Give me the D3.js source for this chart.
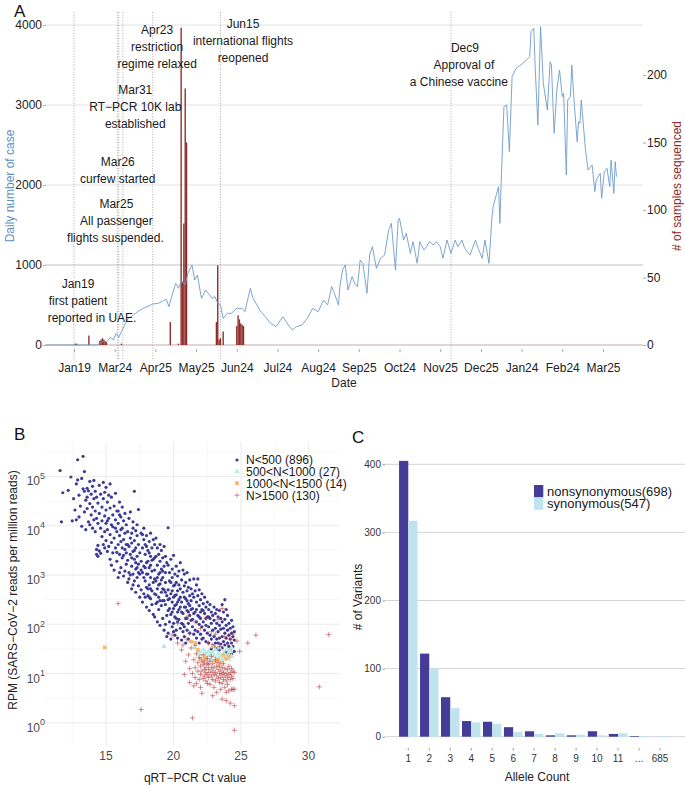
<!DOCTYPE html>
<html>
<head>
<meta charset="utf-8">
<script src="https://cdn.jsdelivr.net/npm/d3@7"></script>
<style>
  body { margin: 0; background: #fff; }
  svg { font-family: "Liberation Sans", Arial, Helvetica, sans-serif; }
</style>
</head>
<body>
<div id="fig"></div>
<script>
// ---------- panel A data ----------
// day index (0 = first day on the axis) and daily new cases
var dailyCases = [[0,0],[38,0],[40,20],[43,54],[45,40],[48,96],[50,62],[52,146],[54,96],[56,167],[59,271],[61,333],
  [65,375],[68,417],[72,458],[76,487],[79,512],[83,521],[87,554],[89,571],[91,479],[93,604],[96,771],[98,708],
  [100,792],[103,760],[105,896],[108,1000],[110,812],[112,875],[115,583],[118,688],[120,646],[123,583],[125,604],
  [127,521],[129,500],[131,333],[134,396],[137,396],[141,458],[145,458],[147,417],[151,708],[153,583],[156,500],
  [158,437],[162,354],[166,271],[170,229],[175,354],[179,250],[182,188],[185,229],[189,250],[193,333],[197,458],
  [201,417],[205,562],[208,500],[211,729],[213,646],[216,500],[217,729],[219,937],[221,1000],[223,687],[226,854],
  [228,771],[230,729],[232,1062],[234,1021],[237,646],[239,1125],[241,1229],[244,958],[247,1083],[250,1125],
  [253,1437],[255,1521],[258,937],[260,1562],[261,1583],[264,1312],[266,1396],[269,1146],[271,1292],[274,1021],
  [276,1292],[279,1187],[281,1229],[283,1292],[286,1250],[288,1292],[291,1229],[293,1083],[296,1312],[299,1146],
  [302,1312],[304,1229],[307,1312],[309,1208],[313,1125],[317,1312],[319,1208],[322,1083],[324,1312],[327,1021],
  [329,1562],[330,1729],[333,1917],[334,1979],[335,1521],[336,2062],[338,2979],[340,3000],[342,2417],[344,3354],
  [347,3458],[352,3521],[357,3604],[358,3917],[360,3958],[361,3479],[363,2750],[365,3979],[367,3271],[370,2937],
  [372,3541],[373,3500],[375,2646],[377,3187],[379,3437],[381,3104],[382,3146],[384,2125],[385,3062],[387,3104],
  [388,3500],[390,2979],[392,2541],[393,2791],[394,2770],[395,3062],[398,2458],[400,2187],[403,2250],[405,1917],
  [406,2062],[409,2146],[410,1833],[412,2167],[414,2208],[416,1979],[417,2312],[419,1896],[420,2292],[421,2104]];

// day index and number of samples sequenced
var samplesSequenced = [[22,1],[23,1],[32,7],[40,3],[41,4],[42,5],[43,4],[44,3],[45,2],[56,1],[92,17],[98,1],
  [100,235],[101,47],[102,90],[103,190],[104,150],[126,17],[127,59],[128,4],[129,5],[131,10],
  [141,14],[142,22],[143,19],[144,16],[145,15],[146,14]];

var dateTickDays = [21, 51, 81, 111, 141, 171, 201, 231, 261, 291, 321, 351, 381, 411];
var dateTickLabels = ["Jan19","Mar24","Apr25","May25","Jun24","Jul24","Aug24","Sep25","Oct24","Nov25","Dec25","Jan24","Feb24","Mar25"];
var caseTicks = [0, 1000, 2000, 3000, 4000];
var sampleTicks = [0, 50, 100, 150, 200];

var eventDays = [21, 53, 54, 57, 79, 129, 299];
var eventText = [
  ["Jan19", "first patient", "reported in UAE."],
  ["Mar25", "All passenger", "flights suspended."],
  ["Mar26", "curfew started"],
  ["Mar31", "RT\u2212PCR 10K lab", "established"],
  ["Apr23", "restriction", "regime relaxed"],
  ["Jun15", "international flights", "reopened"],
  ["Dec9", "Approval of", "a Chinese vaccine"]
];

// ---------- panel B data: [Ct value, log10 RPM] ----------
var groupN500 = [
  [11.6,5.12],[11.7,4.08],[11.8,4.67],[12.2,4.72],[12.4,4.99],[12.5,4.10],
  [12.6,4.55],[12.7,4.32],[12.8,4.85],[12.9,5.34],[12.9,4.93],[13.0,4.62],[13.0,4.18],[13.1,4.40],[13.2,4.96],[13.2,3.99],
  [13.3,5.41],[13.3,4.75],[13.4,5.10],[13.4,4.28],[13.4,4.70],[13.5,4.52],[13.5,3.92],[12.8,4.12],
  [13.6,4.76],[13.6,4.35],[13.7,4.71],[13.7,4.08],[13.8,4.45],[13.8,4.90],[13.9,4.22],[13.9,4.64],[14.0,4.38],[14.0,3.95],
  [14.0,4.80],[14.1,4.55],[14.1,4.12],[14.2,4.70],[14.2,3.88],[14.2,4.30],[14.3,4.58],[14.3,3.52],[14.3,3.42],[14.4,4.05],
  [14.4,4.46],[14.4,3.38],[14.5,3.49],[14.5,4.25],[14.5,4.82],[13.8,4.02],[14.1,4.92],[13.6,4.58],[14.3,4.15],[14.4,3.60],
  [14.6,4.64],[14.6,3.95],[14.6,3.44],[14.7,4.38],[14.7,4.10],[14.7,3.78],[14.8,4.55],[14.8,3.62],[14.8,4.88],[14.9,4.20],
  [14.9,3.88],[14.9,4.68],[15.0,4.32],[15.0,3.70],[15.0,4.05],[15.0,4.78],[15.1,3.48],[15.1,4.48],[15.1,3.92],[15.2,4.15],
  [15.2,3.58],[15.2,4.62],[15.3,3.82],[15.3,4.36],[15.3,3.32],[15.4,4.02],[15.4,4.58],[15.4,3.66],[15.5,4.22],[15.5,3.45],
  [15.5,3.98],[15.1,4.10],[14.9,3.55],[15.3,4.85],[15.4,3.20],
  [15.6,4.40],[15.6,3.75],[15.6,3.10],[15.7,4.12],[15.7,3.55],[15.7,4.66],[15.8,3.88],[15.8,3.28],[15.8,4.30],[15.9,3.62],
  [15.9,4.05],[15.9,2.95],[16.0,4.48],[16.0,3.42],[16.0,3.80],[16.1,4.18],[16.1,3.15],[16.1,3.68],[16.2,3.95],[16.2,4.38],
  [16.2,3.35],[16.3,3.72],[16.3,4.10],[16.3,2.98],[16.4,3.52],[16.4,4.25],[16.4,3.85],[16.5,3.22],[16.5,3.62],[16.5,4.02],
  [15.9,4.30],[16.0,3.05],[16.2,3.55],[15.7,3.95],[16.4,3.08],[16.1,3.92],[15.8,3.46],[16.3,3.40],[16.0,4.22],[16.5,3.45],
  [16.6,3.88],[16.6,3.30],[16.6,2.85],[16.7,4.15],[16.7,3.58],[16.7,3.05],[16.8,3.75],[16.8,3.42],[16.8,4.28],[16.9,3.18],
  [16.9,3.65],[16.9,2.72],[17.0,3.95],[17.0,3.48],[17.0,3.02],[17.0,4.08],[17.1,3.32],[17.1,2.88],[17.1,4.70],[17.1,3.70],
  [17.2,3.55],[17.2,3.12],[17.2,2.65],[17.2,3.90],[17.3,3.38],[17.3,2.95],[17.3,3.80],[17.3,4.02],[17.4,3.22],[17.4,2.78],
  [17.4,3.62],[17.4,4.33],[17.5,3.45],[17.5,3.02],[17.5,2.55],[16.7,2.92],[16.9,3.85],[17.2,3.25],[16.6,3.62],[17.0,2.80],
  [17.3,3.15],[16.8,3.00],[17.1,3.50],[17.4,3.05],[16.9,3.35],
  [17.6,3.85],[17.6,3.28],[17.6,2.70],[17.7,3.55],[17.7,3.05],[17.7,2.45],[17.8,3.72],[17.8,3.18],[17.8,2.62],[17.8,3.95],
  [17.9,3.42],[17.9,2.88],[17.9,3.62],[18.0,3.25],[18.0,2.75],[18.0,3.80],[18.0,2.35],[18.1,3.50],[18.1,3.02],[18.1,2.58],
  [18.2,3.68],[18.2,3.15],[18.2,2.80],[18.2,2.28],[18.3,3.38],[18.3,2.95],[18.3,3.85],[18.3,2.52],[18.4,3.55],[18.4,3.08],
  [18.4,2.68],[18.5,3.32],[18.5,2.85],[18.5,2.20],[18.5,3.72],[17.6,3.10],[17.7,3.82],[17.9,3.15],[18.0,3.58],[18.1,3.28],
  [18.2,2.55],[18.3,3.20],[18.4,2.40],[17.8,2.95],[18.1,2.72],[18.4,3.30],[17.9,2.55],[18.2,3.45],[18.0,3.02],[18.3,2.72],
  [18.6,3.62],[18.6,3.10],[18.6,2.62],[18.6,2.15],[18.7,3.38],[18.7,2.88],[18.7,3.75],[18.7,2.42],[18.8,3.20],[18.8,2.72],
  [18.8,3.55],[18.8,2.05],[18.9,3.02],[18.9,2.55],[18.9,3.42],[18.9,2.30],[19.0,3.28],[19.0,2.82],[19.0,3.62],[19.0,1.98],
  [19.1,3.12],[19.1,2.65],[19.1,2.38],[19.1,3.50],[19.2,2.95],[19.2,2.48],[19.2,3.35],[19.2,2.12],[19.3,3.18],[19.3,2.70],
  [19.3,1.88],[19.3,3.58],[19.4,2.85],[19.4,2.40],[19.4,3.05],[19.4,2.00],[19.5,3.25],[19.5,2.58],[19.5,2.18],[19.5,1.75],
  [19.6,3.96],[18.6,2.92],[18.7,2.60],[18.8,2.95],[18.9,2.80],[19.0,2.48],[19.1,2.90],[19.2,2.72],[19.3,2.48],[19.4,2.65],
  [19.0,3.05],[18.8,2.45],[19.2,3.08],[18.6,3.35],[19.4,3.38],
  [19.6,3.20],[19.6,2.70],[19.6,2.28],[19.6,1.82],[19.7,3.05],[19.7,2.52],[19.7,2.88],[19.7,2.05],[19.8,3.32],[19.8,2.62],
  [19.8,2.20],[19.8,1.70],[19.9,2.95],[19.9,2.45],[19.9,3.12],[19.9,1.95],[20.0,2.78],[20.0,2.32],[20.0,3.40],[20.0,2.02],
  [20.1,2.58],[20.1,3.02],[20.1,2.15],[20.1,1.78],[20.2,2.85],[20.2,2.40],[20.2,3.18],[20.2,1.88],[20.3,2.68],[20.3,2.25],
  [20.3,2.98],[20.3,1.72],[20.4,2.50],[20.4,2.10],[20.4,3.08],[20.4,2.80],[20.5,2.35],[20.5,1.92],[20.5,2.72],[20.5,3.25],
  [19.7,2.32],[19.8,2.85],[19.9,2.25],[20.0,2.55],[20.1,2.38],[20.2,2.60],[20.3,2.45],[20.4,2.30],[20.0,1.85],[19.6,2.50],
  [20.2,2.12],[19.9,2.68],[20.1,2.80],[20.3,2.05],[20.5,2.55],
  [20.6,2.90],[20.6,2.45],[20.6,2.02],[20.6,1.68],[20.7,2.65],[20.7,2.22],[20.7,3.10],[20.7,1.85],[20.8,2.78],[20.8,2.35],
  [20.8,1.95],[20.8,3.02],[20.9,2.52],[20.9,2.12],[20.9,2.85],[20.9,1.62],[21.0,2.68],[21.0,2.28],[21.0,1.88],[21.0,3.05],
  [21.1,2.42],[21.1,2.02],[21.1,2.75],[21.1,1.70],[21.2,2.58],[21.2,2.18],[21.2,2.90],[21.2,1.82],[21.3,2.48],[21.3,2.08],
  [21.3,2.72],[21.3,1.65],[21.4,2.32],[21.4,1.95],[21.4,2.62],[21.5,2.22],[21.5,1.80],[21.5,2.55],[21.5,2.92],[20.6,2.25],
  [20.8,2.55],[21.0,2.48],[21.2,2.38],[21.4,2.10],[20.7,2.00],[20.9,2.35],[21.1,2.25],[21.3,2.30],[20.8,1.75],[21.0,2.12],
  [21.6,2.68],[21.6,2.25],[21.6,1.88],[21.6,1.58],[21.7,2.45],[21.7,2.05],[21.7,2.80],[21.7,1.72],[21.8,2.58],[21.8,2.18],
  [21.8,1.85],[21.9,2.38],[21.9,2.00],[21.9,2.70],[21.9,1.62],[22.0,2.50],[22.0,2.12],[22.0,1.80],[22.1,2.30],[22.1,1.95],
  [22.1,2.62],[22.2,2.42],[22.2,2.05],[22.2,1.72],[22.3,2.22],[22.3,1.88],[22.3,2.55],[22.4,2.35],[22.4,1.98],[22.4,1.65],
  [22.5,2.15],[22.5,1.82],[22.5,2.45],[21.8,2.92],[22.0,2.25],[22.2,2.28],[21.7,2.30],[22.4,2.12],[21.9,2.15],[22.1,1.70],
  [22.6,2.30],[22.6,1.95],[22.6,1.62],[22.7,2.12],[22.7,1.78],[22.7,2.40],[22.8,2.02],[22.8,1.70],[22.8,2.25],[22.9,1.88],
  [22.9,2.18],[22.9,1.58],[23.0,2.08],[23.0,1.75],[23.0,2.35],[23.1,1.92],[23.1,1.62],[23.1,2.22],[23.2,2.02],[23.2,1.70],
  [23.2,1.50],[23.3,1.85],[23.3,2.15],[23.3,1.62],[23.4,1.98],[23.4,1.72],[23.4,2.28],[23.5,1.90],[23.5,1.60],[23.5,2.12],
  [22.8,1.50],[23.0,1.55],[23.2,2.30],[22.6,2.15],[23.4,1.48],
  [23.6,2.05],[23.6,1.75],[23.6,1.52],[23.6,2.40],[23.7,1.92],[23.7,1.65],[23.7,2.25],[23.8,1.82],[23.8,1.58],[23.8,2.50],
  [23.8,2.10],[23.9,1.72],[23.9,1.98],[23.9,1.45],[24.0,1.88],[24.0,1.62],[24.0,2.18],[24.1,1.78],[24.1,1.55],[24.1,2.02],
  [24.2,1.70],[24.2,1.92],[24.2,1.48],[24.3,1.82],[24.3,1.62],[24.3,2.08],[24.4,1.75],[24.4,1.55],[24.4,1.95],[24.5,1.68],
  [24.5,1.85],[24.5,1.45],[24.3,1.40],[24.0,1.40],[23.9,2.30]
];
var group500to1000 = [[19.3,1.55],[21.6,1.52],[21.9,1.45],[22.0,1.38],[22.2,1.48],[22.3,1.32],[22.4,1.42],[22.5,1.30],
  [22.6,1.45],[22.7,1.38],[22.8,1.28],[22.9,1.42],[23.0,1.35],[23.1,1.48],[23.2,1.30],[23.3,1.40],[23.4,1.52],[23.5,1.35],
  [23.6,1.28],[23.7,1.42],[23.8,1.32],[23.9,1.48],[24.0,1.38],[24.1,1.30],[24.2,1.45],[24.3,1.35],[24.3,1.52]];
var group1000to1500 = [[14.9,1.53],[21.3,1.65],[21.6,1.62],[21.8,1.48],[22.0,1.30],[22.3,1.28],[22.4,1.33],[22.9,1.55],
  [23.1,1.25],[23.3,1.28],[23.5,1.22],[23.7,1.38],[23.9,1.30],[24.1,1.35]];
var groupOver1500 = [[15.9,2.42],[17.6,0.27],[21.4,0.10],[24.5,-0.15],[26.1,1.78],[31.5,1.79],[30.8,0.73],[25.5,1.62],
  [24.9,1.45],[24.7,1.66],[19.9,1.78],
  [20.3,1.62],[20.6,1.48],[20.7,1.58],[20.8,0.98],[20.9,1.25],[21.0,1.70],[21.1,1.38],[21.2,0.82],[21.2,1.10],[21.3,1.52],
  [21.4,1.00],[21.5,1.28],[21.5,0.75],[21.6,1.12],[21.6,0.92],[21.7,1.40],[21.7,0.80],[21.8,1.05],[21.8,1.22],[21.9,0.88],
  [21.9,1.32],[22.0,1.15],[22.0,0.98],[22.0,0.72],[22.1,1.25],[22.1,1.05],[22.2,0.90],[22.2,1.18],[22.2,1.38],[22.3,1.08],
  [22.3,0.95],[22.3,1.22],[22.4,1.12],[22.4,0.85],[22.4,1.02],[22.5,1.20],[22.5,0.98],[22.5,1.30],[22.5,0.80],[22.6,1.08],
  [22.6,1.18],[22.6,0.92],[22.7,1.25],[22.7,1.02],[22.7,0.78],[22.8,1.12],[22.8,0.95],[22.8,1.35],[22.9,1.05],[22.9,0.88],
  [22.9,1.20],[23.0,0.98],[23.0,1.12],[23.0,0.72],[23.1,1.28],[23.1,1.02],[23.1,0.85],[23.2,1.15],[23.2,0.95],[23.2,0.62],
  [23.3,1.08],[23.3,0.90],[23.3,1.22],[23.4,1.00],[23.4,0.82],[23.4,1.15],[23.5,1.05],[23.5,0.92],[23.5,0.68],[23.6,1.12],
  [23.6,0.98],[23.6,0.80],[23.7,1.02],[23.7,0.88],[23.7,1.20],[23.8,0.95],[23.8,0.72],[23.8,1.10],[23.9,1.00],[23.9,0.85],
  [23.9,0.45],[24.0,0.92],[24.0,1.08],[24.0,0.78],[24.1,0.98],[24.1,0.65],[24.1,1.15],[24.2,0.88],[24.2,1.02],[24.2,0.40],
  [24.3,0.95],[24.3,0.68],[24.3,1.10],[24.4,0.68],[24.4,0.90],[24.4,1.05],[24.5,0.68],[24.5,1.02],[24.5,0.35],[23.6,0.48],
  [23.9,0.62],[21.0,2.15],[21.6,2.05],[22.0,1.92],[22.4,2.12],[22.8,1.85],[23.1,1.80],[23.3,2.10],[23.6,2.32],[23.8,1.75],
  [24.2,1.70],[24.4,1.80],[20.3,2.02],[21.2,1.82],[22.6,1.62],[23.4,1.55],[24.0,1.60],[22.1,0.60],[22.9,0.55]];
var scatterLegend = ["N<500 (896)", "500<N<1000 (27)", "1000<N<1500 (14)", "N>1500 (130)"];
var ctTicks = [15, 20, 25, 30];
var rpmExponents = [0, 1, 2, 3, 4, 5];

// ---------- panel C data ----------
var alleleCounts = ["1","2","3","4","5","6","7","8","9","10","11","...","685"];
var nonsynonymous = [405, 122, 58, 23, 22, 14, 8, 2, 2, 8, 4, 1, 0];
var synonymous = [317, 100, 42, 21, 19, 7, 4, 5, 3, 2, 5, 1, 1];
var variantTicks = [0, 100, 200, 300, 400];

var svg = d3.select("#fig").append("svg")
    .attr("width", 685)
    .attr("height", 785);

var darkRed = "#8b2b27";
var lineBlue = "#6e9cc8";
var navy = "#433d98";

// ================= panel A =================
var gA = svg.append("g");
var xA = d3.scaleLinear().domain([0, 440]).range([45.5, 642.3]);
var yA = d3.scaleLinear().domain([0, 4000]).range([345, 25]);
var yA2 = d3.scaleLinear().domain([0, 200]).range([345, 75]);

gA.selectAll(".gridA").data(caseTicks).enter().append("line")
    .attr("x1", 46).attr("x2", 643)
    .attr("y1", d => yA(d)).attr("y2", d => yA(d))
    .attr("stroke", d => d == 0 ? "#c4a9a9" : (d == 1000 ? "#c2c2c2" : "#e2e2e2"))
    .attr("stroke-width", 1);

// event lines
gA.selectAll(".event").data(eventDays).enter().append("line")
    .attr("x1", d => xA(d)).attr("x2", d => xA(d))
    .attr("y1", 12).attr("y2", 360)
    .attr("stroke", "#9a9a9a")
    .attr("stroke-width", 0.8)
    .attr("stroke-dasharray", "1,1.6");

// sample bars (right axis)
var barW = xA(1) - xA(0);
gA.selectAll(".sampleBar").data(samplesSequenced).enter().append("rect")
    .attr("x", d => xA(d[0]) - barW / 2)
    .attr("width", barW)
    .attr("y", d => yA2(d[1]))
    .attr("height", d => yA2(0) - yA2(d[1]))
    .attr("fill", darkRed);

// case line
var caseLine = d3.line().x(d => xA(d[0])).y(d => yA(d[1]));
gA.append("path").datum(dailyCases)
    .attr("d", caseLine)
    .attr("fill", "none")
    .attr("stroke", lineBlue)
    .attr("stroke-width", 0.9);

// axes
var axA = gA.append("g").attr("transform", "translate(46,0)")
    .call(d3.axisLeft(yA).tickValues(caseTicks).tickFormat(d3.format("d")).tickSize(3).tickPadding(1));
var axA2 = gA.append("g").attr("transform", "translate(643,0)")
    .call(d3.axisRight(yA2).tickValues(sampleTicks).tickFormat(d3.format("d")).tickSize(3).tickPadding(1));
var axAx = gA.append("g").attr("transform", "translate(0,349)")
    .call(d3.axisBottom(xA).tickValues(dateTickDays).tickFormat((d, i) => dateTickLabels[i]).tickSize(3).tickPadding(11));
[axA, axA2, axAx].forEach(function (a) {
    a.select(".domain").remove();
    a.selectAll(".tick line").attr("stroke", "#aaa");
    a.selectAll(".tick text").attr("font-size", 12).attr("fill", "#222")
        .style("font-family", '"Liberation Sans", Arial, sans-serif');
});

gA.append("text").attr("x", 344).attr("y", 387).attr("text-anchor", "middle")
    .attr("font-size", 12).attr("fill", "#222").text("Date");
gA.append("text").attr("transform", "translate(14,186) rotate(-90)").attr("text-anchor", "middle")
    .attr("font-size", 12).attr("fill", "#5d8fc2").text("Daily number of case");
gA.append("text").attr("transform", "translate(681,186) rotate(-90)").attr("text-anchor", "middle")
    .attr("font-size", 12).attr("fill", darkRed).text("# of samples sequenced");

// event annotations: [centre day, first line case level, per-line x shift]
var labelAnchor = [[24, 762], [52.3, 1762], [53.3, 2291], [66.2, 3187], [82.3, 3937], [145.6, 4012], [307, 3709]];
var labelShift = [[0, 0, 14], [0, 0, -1], [0, 0], [0, 0, 0], [0, 0, 0], [0, 0, 0], [3, 2, -3]];
eventText.forEach(function (lines, k) {
    lines.forEach(function (t, j) {
        gA.append("text")
            .attr("x", xA(labelAnchor[k][0]) + labelShift[k][j])
            .attr("y", yA(labelAnchor[k][1]) + j * 16.8)
            .attr("dy", "0.35em")
            .attr("text-anchor", "middle")
            .attr("font-size", 12)
            .attr("fill", "#1a1a1a")
            .text(t);
    });
});

svg.append("text").attr("x", 14).attr("y", 17).attr("font-size", 17).attr("fill", "#111").text("A");

// ================= panel B =================
var gB = svg.append("g");
var xB = d3.scaleLinear().domain([10.48, 32.33]).range([45, 340]);
var yB = d3.scaleLog().domain([Math.pow(10, -0.45), Math.pow(10, 5.7)]).range([745, 442]);

var ctMinor = [12.5, 17.5, 22.5, 27.5];
var expMinor = [0.5, 1.5, 2.5, 3.5, 4.5, 5.5];
gB.selectAll(".vminor").data(ctMinor).enter().append("line")
    .attr("x1", d => xB(d)).attr("x2", d => xB(d)).attr("y1", 442).attr("y2", 745)
    .attr("stroke", "#f2f2f2").attr("stroke-width", 0.6);
gB.selectAll(".hminor").data(expMinor).enter().append("line")
    .attr("x1", 45).attr("x2", 340).attr("y1", d => yB(Math.pow(10, d))).attr("y2", d => yB(Math.pow(10, d)))
    .attr("stroke", "#f2f2f2").attr("stroke-width", 0.6);
gB.selectAll(".vmajor").data(ctTicks).enter().append("line")
    .attr("x1", d => xB(d)).attr("x2", d => xB(d)).attr("y1", 442).attr("y2", 745)
    .attr("stroke", "#e9e9e9").attr("stroke-width", 0.9);
gB.selectAll(".hmajor").data(rpmExponents).enter().append("line")
    .attr("x1", 45).attr("x2", 340).attr("y1", d => yB(Math.pow(10, d))).attr("y2", d => yB(Math.pow(10, d)))
    .attr("stroke", "#e9e9e9").attr("stroke-width", 0.9);

gB.selectAll(".ptLow").data(groupN500).enter().append("circle")
    .attr("cx", d => xB(d[0])).attr("cy", d => yB(Math.pow(10, d[1])))
    .attr("r", 1.6).attr("fill", "#3d3995");

var tri = d3.symbol().type(d3.symbolTriangle).size(14);
var sq = d3.symbol().type(d3.symbolSquare).size(14);
var plus = "M-2.6,0H2.6M0,-2.6V2.6";

gB.selectAll(".ptMid").data(group500to1000).enter().append("path")
    .attr("transform", d => `translate(${xB(d[0])},${yB(Math.pow(10, d[1]))})`)
    .attr("d", tri).attr("fill", "#b7ebe1");
gB.selectAll(".ptHigh").data(group1000to1500).enter().append("path")
    .attr("transform", d => `translate(${xB(d[0])},${yB(Math.pow(10, d[1]))})`)
    .attr("d", sq).attr("fill", "#fdb56f");
gB.selectAll(".ptTop").data(groupOver1500).enter().append("path")
    .attr("transform", d => `translate(${xB(d[0])},${yB(Math.pow(10, d[1]))})`)
    .attr("d", plus).attr("stroke", "#b8474a").attr("stroke-opacity", 0.75)
    .attr("stroke-width", 0.8).attr("fill", "none");

gB.selectAll(".xlabB").data(ctTicks).enter().append("text")
    .attr("x", d => xB(d)).attr("y", 760).attr("text-anchor", "middle")
    .attr("font-size", 12).attr("fill", "#4d4d4d").text(d => d);
var ylabB = gB.selectAll(".ylabB").data(rpmExponents).enter().append("text")
    .attr("x", 45).attr("y", d => yB(Math.pow(10, d)) + 9)
    .attr("text-anchor", "end").attr("font-size", 12).attr("fill", "#4d4d4d");
ylabB.append("tspan").text("10");
ylabB.append("tspan").attr("dy", -6.5).attr("font-size", 9).text(d => d);

gB.append("text").attr("x", 195).attr("y", 782).attr("text-anchor", "middle")
    .attr("font-size", 12).attr("fill", "#222").text("qRT\u2212PCR Ct value");
gB.append("text").attr("transform", "translate(17,590) rotate(-90)").attr("text-anchor", "middle")
    .attr("font-size", 12).attr("fill", "#222").text("RPM (SARS\u2212CoV\u22122 reads per million reads)");

// legend B
var legB = gB.append("g").attr("transform", "translate(237,460)");
legB.append("circle").attr("cx", 0).attr("cy", 0).attr("r", 1.6).attr("fill", "#3d3995");
legB.append("path").attr("transform", "translate(0,11.7)").attr("d", tri).attr("fill", "#b7ebe1");
legB.append("path").attr("transform", "translate(0,23.2)").attr("d", sq).attr("fill", "#fdb56f");
legB.append("path").attr("transform", "translate(0,35.2)").attr("d", plus)
    .attr("stroke", "#b8474a").attr("stroke-opacity", 0.75).attr("stroke-width", 0.8);
legB.selectAll(".lt").data(scatterLegend).enter().append("text")
    .attr("x", 9).attr("y", (d, i) => [0, 11.7, 23.2, 35.2][i]).attr("dy", "0.36em")
    .attr("font-size", 12).attr("fill", "#1a1a1a").text(d => d);

svg.append("text").attr("x", 14).attr("y", 440).attr("font-size", 17).attr("fill", "#111").text("B");

// ================= panel C =================
var gC = svg.append("g");
var xC = d3.scaleBand().domain(alleleCounts).range([397.8, 670.5]).paddingInner(0.12).paddingOuter(0.06);
var xSub = d3.scaleBand().domain(["nonsyn", "syn"]).range([0, xC.bandwidth()]);
var yC = d3.scaleLinear().domain([0, 400]).range([736.7, 464.3]);

gC.selectAll(".gridC").data(variantTicks).enter().append("line")
    .attr("x1", 385).attr("x2", 685)
    .attr("y1", d => yC(d)).attr("y2", d => yC(d))
    .attr("stroke", "#cfcfcf").attr("stroke-width", 0.9);

var rowsC = alleleCounts.map((c, i) => ({cat: c, nonsyn: nonsynonymous[i], syn: synonymous[i]}));
var colorC = {nonsyn: navy, syn: "#bfe4ee"};
var grp = gC.selectAll(".grp").data(rowsC).enter().append("g")
    .attr("transform", d => `translate(${xC(d.cat)},0)`);
grp.selectAll("rect").data(d => ["nonsyn", "syn"].map(k => ({key: k, value: d[k]}))).enter().append("rect")
    .attr("x", d => xSub(d.key))
    .attr("width", xSub.bandwidth())
    .attr("y", d => yC(d.value))
    .attr("height", d => yC(0) - yC(d.value))
    .attr("fill", d => colorC[d.key]);

var axC = gC.append("g").attr("transform", "translate(385,0)")
    .call(d3.axisLeft(yC).tickValues(variantTicks).tickSize(2.5).tickPadding(1.5));
var axCx = gC.append("g").attr("transform", "translate(0,748)")
    .call(d3.axisBottom(xC).tickSize(2.5).tickPadding(4));
[axC, axCx].forEach(function (a) {
    a.select(".domain").remove();
    a.selectAll(".tick line").attr("stroke", "#999");
    a.selectAll(".tick text").attr("font-size", 10).attr("fill", "#333")
        .style("font-family", '"Liberation Sans", Arial, sans-serif');
});

gC.append("text").attr("x", 537).attr("y", 781).attr("text-anchor", "middle")
    .attr("font-size", 12).attr("fill", "#222").text("Allele Count");
gC.append("text").attr("transform", "translate(362,597) rotate(-90)").attr("text-anchor", "middle")
    .attr("font-size", 12).attr("fill", "#222").text("# of Variants");

var legendC = ["nonsynonymous(698)", "synonymous(547)"];
var legC = gC.append("g").attr("transform", "translate(534,485)");
legC.selectAll("rect").data(["nonsyn", "syn"]).enter().append("rect")
    .attr("x", 0).attr("y", (d, i) => i * 12.4).attr("width", 9.3).attr("height", 12.4)
    .attr("fill", d => colorC[d]);
legC.selectAll("text").data(legendC).enter().append("text")
    .attr("x", 13).attr("y", (d, i) => i * 12.4 + 6.4).attr("dy", "0.36em")
    .attr("font-size", 13).attr("fill", "#1a1a1a").text(d => d);

svg.append("text").attr("x", 352).attr("y", 443).attr("font-size", 17).attr("fill", "#111").text("C");
</script>
</body>
</html>
